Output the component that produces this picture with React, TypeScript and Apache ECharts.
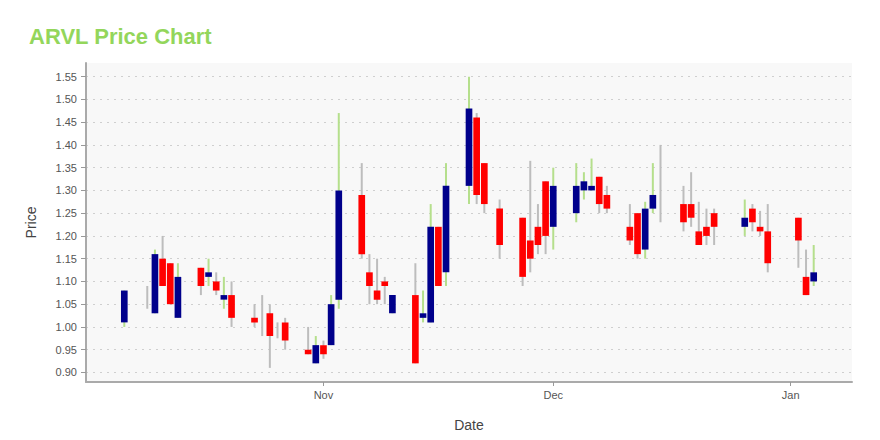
import React, { useEffect, useRef } from "react";
import * as echarts from "echarts";

const dates = [
  "2023-10-06", "2023-10-09", "2023-10-10", "2023-10-11", "2023-10-12", "2023-10-13",
  "2023-10-16", "2023-10-17", "2023-10-18", "2023-10-19", "2023-10-20",
  "2023-10-23", "2023-10-24", "2023-10-25", "2023-10-26", "2023-10-27",
  "2023-10-30", "2023-10-31", "2023-11-01", "2023-11-02", "2023-11-03",
  "2023-11-06", "2023-11-07", "2023-11-08", "2023-11-09", "2023-11-10",
  "2023-11-13", "2023-11-14", "2023-11-15", "2023-11-16", "2023-11-17",
  "2023-11-20", "2023-11-21", "2023-11-22", "2023-11-24",
  "2023-11-27", "2023-11-28", "2023-11-29", "2023-11-30", "2023-12-01",
  "2023-12-04", "2023-12-05", "2023-12-06", "2023-12-07", "2023-12-08",
  "2023-12-11", "2023-12-12", "2023-12-13", "2023-12-14", "2023-12-15",
  "2023-12-18", "2023-12-19", "2023-12-20", "2023-12-21", "2023-12-22",
  "2023-12-26", "2023-12-27", "2023-12-28", "2023-12-29",
  "2024-01-02", "2024-01-03", "2024-01-04",
];
const opens = [
  1.01, 1.06, 1.03, 1.15, 1.14, 1.02,
  1.13, 1.11, 1.10, 1.06, 1.07,
  1.02, 1.01, 1.03, 0.99, 1.01,
  0.95, 0.92, 0.96, 0.96, 1.06,
  1.29, 1.12, 1.08, 1.10, 1.03,
  1.07, 1.02, 1.01, 1.22, 1.12,
  1.31, 1.46, 1.36, 1.26,
  1.24, 1.19, 1.22, 1.32, 1.22,
  1.25, 1.30, 1.30, 1.33, 1.29,
  1.22, 1.25, 1.17, 1.26, 1.30,
  1.27, 1.27, 1.21, 1.22, 1.25,
  1.22, 1.26, 1.22, 1.21,
  1.24, 1.11, 1.10,
];
const closes = [
  1.08, 1.06, 1.16, 1.09, 1.05, 1.11,
  1.09, 1.12, 1.08, 1.07, 1.02,
  1.01, 1.01, 0.98, 0.99, 0.97,
  0.94, 0.96, 0.94, 1.05, 1.30,
  1.16, 1.09, 1.06, 1.09, 1.07,
  0.92, 1.03, 1.22, 1.09, 1.31,
  1.48, 1.29, 1.27, 1.18,
  1.11, 1.15, 1.18, 1.20, 1.31,
  1.31, 1.32, 1.31, 1.27, 1.26,
  1.19, 1.16, 1.26, 1.29, 1.30,
  1.23, 1.24, 1.18, 1.20, 1.22,
  1.24, 1.23, 1.21, 1.14,
  1.19, 1.07, 1.12,
];
const lows = [
  1.00, 1.04, 1.03, 1.09, 1.05, 1.02,
  1.07, 1.09, 1.07, 1.04, 1.00,
  1.00, 0.98, 0.91, 0.975, 0.95,
  0.94, 0.92, 0.93, 0.96, 1.04,
  1.15, 1.05, 1.05, 1.05, 1.03,
  0.92, 1.01, 1.01, 1.09, 1.09,
  1.27, 1.27, 1.25, 1.15,
  1.09, 1.12, 1.16, 1.16, 1.17,
  1.23, 1.28, 1.30, 1.25, 1.25,
  1.18, 1.15, 1.15, 1.25, 1.23,
  1.21, 1.22, 1.18, 1.18, 1.18,
  1.20, 1.21, 1.20, 1.12,
  1.13, 1.07, 1.09,
];
const highs = [
  1.08, 1.09, 1.17, 1.20, 1.14, 1.14,
  1.13, 1.15, 1.12, 1.11, 1.10,
  1.05, 1.07, 1.05, 1.01, 1.02,
  1.00, 0.98, 0.97, 1.07, 1.47,
  1.36, 1.16, 1.15, 1.11, 1.07,
  1.14, 1.08, 1.27, 1.22, 1.36,
  1.55, 1.47, 1.36, 1.28,
  1.24, 1.365, 1.27, 1.32, 1.35,
  1.36, 1.34, 1.37, 1.33, 1.31,
  1.27, 1.25, 1.275, 1.36, 1.40,
  1.31, 1.34, 1.275, 1.26, 1.26,
  1.28, 1.27, 1.255, 1.27,
  1.24, 1.17, 1.18,
];

const yTicks = [0.9, 0.95, 1.0, 1.05, 1.1, 1.15, 1.2, 1.25, 1.3, 1.35, 1.4, 1.45, 1.5, 1.55];
const xTickDates = ["2023-11-01", "2023-12-01", "2024-01-01"];
const xTickLabels = ["Nov", "Dec", "Jan"];
const xRange = ["2023-10-01", "2024-01-09"];
const yRange = [0.879, 1.58];

const DAY = 86400000;
const toTs = (s: string) => {
  const [y, m, d] = s.split("-").map(Number);
  return Date.UTC(y, m - 1, d);
};

const FONT = "'Liberation Sans', Arial, Helvetica, sans-serif";
const UP_BODY = "#00008b";
const DOWN_BODY = "#ff0000";
const UP_WICK = "#b5df8c";
const DOWN_WICK = "#bdbdbd";

export default function App() {
  const ref = useRef<HTMLDivElement>(null);
  useEffect(() => {
    if (!ref.current) return;
    const chart = echarts.init(ref.current, null, { renderer: "svg" });
    const data = dates.map((d, i) => [toTs(d), opens[i], closes[i], lows[i], highs[i]]);
    const tickTs = xTickDates.map(toTs);
    chart.setOption({
      animation: false,
      title: {
        text: "ARVL Price Chart",
        left: 29,
        top: 25,
        padding: 0,
        textStyle: { color: "#93d65b", fontSize: 22, fontWeight: "bold", fontFamily: FONT },
      },
      grid: {
        left: 86,
        right: 28,
        top: 63,
        bottom: 58,
        show: true,
        backgroundColor: "#f8f8f8",
        borderWidth: 0,
      },
      xAxis: {
        type: "value",
        min: toTs(xRange[0]),
        max: toTs(xRange[1]),
        name: "Date",
        nameLocation: "middle",
        nameGap: 36,
        nameTextStyle: { color: "#444", fontSize: 14, fontFamily: FONT },
        axisLine: { show: true, lineStyle: { color: "#aaaaaa", width: 2 } },
        axisTick: { show: true, length: 4, lineStyle: { color: "#999" }, customValues: tickTs },
        axisLabel: {
          color: "#555",
          fontSize: 11,
          fontFamily: FONT,
          margin: 7,
          customValues: tickTs,
          formatter: (v: number) => {
            const idx = tickTs.findIndex((t) => Math.abs(t - v) < DAY / 2);
            return idx >= 0 ? xTickLabels[idx] : "";
          },
        },
        splitLine: { show: false },
      },
      yAxis: {
        type: "value",
        min: yRange[0],
        max: yRange[1],
        name: "Price",
        nameLocation: "middle",
        nameGap: 48,
        nameTextStyle: { color: "#444", fontSize: 14, fontFamily: FONT },
        axisLine: { show: true, lineStyle: { color: "#aaaaaa", width: 2 } },
        axisTick: { show: true, length: 5, lineStyle: { color: "#999" }, customValues: yTicks },
        axisLabel: {
          color: "#555",
          fontSize: 11,
          fontFamily: FONT,
          margin: 9,
          customValues: yTicks,
          formatter: (v: number) => v.toFixed(2),
        },
        splitLine: { show: true, lineStyle: { color: "#cfcfcf", width: 1, type: [2, 5] } },
      },
      series: [
        {
          type: "custom",
          clip: true,
          encode: { x: 0, y: [1, 2, 3, 4] },
          data,
          renderItem: (params: any, api: any) => {
            const t = api.value(0);
            const o = api.value(1);
            const c = api.value(2);
            const l = api.value(3);
            const h = api.value(4);
            const hi = api.coord([t, h]);
            const lo = api.coord([t, l]);
            const po = api.coord([t, o]);
            const pc = api.coord([t, c]);
            const w = api.size([DAY, 0])[0] * 0.87;
            const up = c > o;
            return {
              type: "group",
              children: [
                {
                  type: "line",
                  shape: { x1: hi[0], y1: hi[1], x2: lo[0], y2: lo[1] },
                  style: { stroke: up ? UP_WICK : DOWN_WICK, lineWidth: 2 },
                },
                {
                  type: "rect",
                  shape: {
                    x: po[0] - w / 2,
                    y: Math.min(po[1], pc[1]),
                    width: w,
                    height: Math.abs(po[1] - pc[1]),
                  },
                  style: { fill: up ? UP_BODY : DOWN_BODY },
                },
              ],
            };
          },
        },
      ],
    });
    return () => chart.dispose();
  }, []);
  return (
    <div
      ref={ref}
      style={{ position: "absolute", left: 0, top: 0, width: 880, height: 440 }}
    />
  );
}
